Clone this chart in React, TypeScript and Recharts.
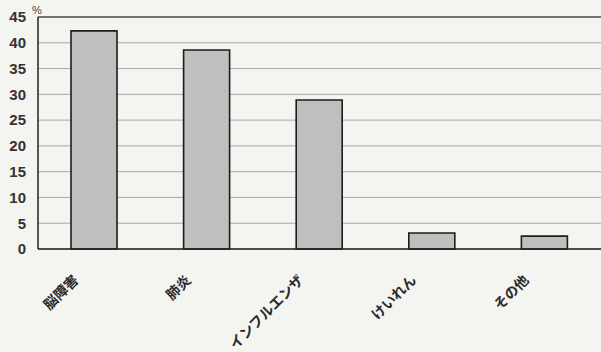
import React from 'react';
import { BarChart, Bar, XAxis, YAxis, CartesianGrid, ReferenceLine, Label } from 'recharts';

// Causes (categories) and their share in percent
const causes = ['脳障害', '肺炎', 'インフルエンザ', 'けいれん', 'その他'];
const percents = [42.3, 38.6, 28.9, 3.1, 2.5];
const yTicks = [0, 5, 10, 15, 20, 25, 30, 35, 40, 45];

const rows = causes.map((name, i) => ({ name, value: percents[i] }));

const CauseTick = (props: any) => {
  const { x, y, payload } = props;
  return (
    <g transform={`translate(${x - 15},${y + 24})`}>
      <text
        x={0}
        y={0}
        textAnchor="end"
        transform="rotate(-45)"
        fontSize={14}
        fontFamily="'Noto Sans CJK JP', sans-serif"
        fontWeight={700}
        fill="#2a2a2a"
      >
        {payload.value}
      </text>
    </g>
  );
};

export default function App() {
  return (
    <div style={{ position: 'absolute', left: 0, top: 0, width: 601, height: 352, background: '#f4f4f0' }}>
      <BarChart
        width={601}
        height={352}
        data={rows}
        margin={{ top: 17, right: 0, left: 0, bottom: 0 }}
        barCategoryGap={0}
      >
        <CartesianGrid vertical={false} stroke="#a8a8a8" strokeWidth={1} />
        <XAxis
          dataKey="name"
          height={103}
          interval={0}
          tick={<CauseTick />}
          tickLine={false}
          axisLine={{ stroke: '#222', strokeWidth: 1.5 }}
        />
        <YAxis
          width={38}
          domain={[0, 45]}
          ticks={yTicks}
          interval={0}
          tickLine={false}
          tickSize={6}
          tickMargin={6}
          axisLine={{ stroke: '#222', strokeWidth: 1.5 }}
          tick={{ fontSize: 15, fontWeight: 700, fontFamily: "'Liberation Sans', Arial, sans-serif", fill: '#333' }}
        >
          <Label
            content={(p: any) => (
              <text
                x={p.viewBox.x + p.viewBox.width - 6}
                y={p.viewBox.y - 3}
                fontSize={11}
                fontFamily="'Liberation Sans', Arial, sans-serif"
                fill="#444"
              >
                %
              </text>
            )}
          />
        </YAxis>
        <ReferenceLine y={45} stroke="#555" strokeWidth={1.5} />
        <Bar
          dataKey="value"
          barSize={46}
          fill="#bfbfbf"
          stroke="#1c1c1c"
          strokeWidth={1.6}
          isAnimationActive={false}
        />
      </BarChart>
    </div>
  );
}
